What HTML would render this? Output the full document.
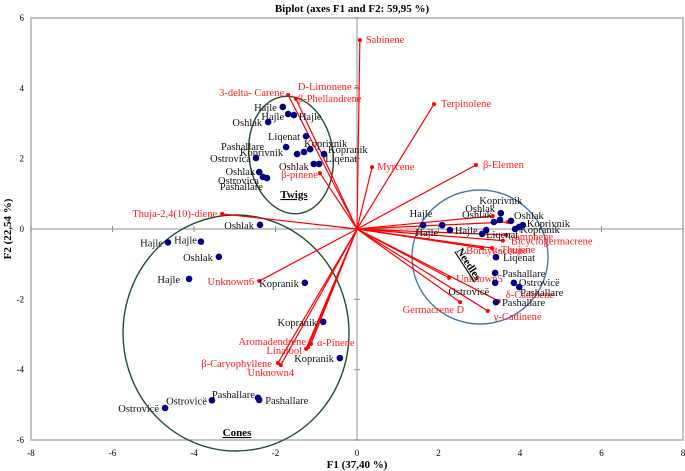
<!DOCTYPE html>
<html><head><meta charset="utf-8"><style>
html,body{margin:0;padding:0;background:#fff;}
svg{display:block;font-family:"Liberation Serif",serif;}
</style></head><body>
<svg id="chart" width="685" height="471" viewBox="0 0 685 471" xmlns="http://www.w3.org/2000/svg">
<text x="352" y="12" text-anchor="middle" font-size="11" font-weight="bold">Biplot (axes F1 and F2: 59,95 %)</text>
<text x="357" y="468" text-anchor="middle" font-size="11" font-weight="bold">F1 (37,40 %)</text>
<text transform="translate(11,229) rotate(-90)" text-anchor="middle" font-size="11" font-weight="bold">F2 (22,54 %)</text>
<g id="plot"></g>
</svg>
<script>
const xTicks=[-8,-6,-4,-2,0,2,4,6,8];
const yTicks=[-6,-4,-2,0,2,4,6];
// observations
const obsX=[-1.82,-1.69,-1.55,-2.18,-1.25,-1.74,-1.47,-1.30,-1.15,-0.81,-2.48,-1.06,-0.93,-2.40,-2.31,-2.21,
 1.62,2.09,2.28,3.07,3.17,3.36,3.51,3.53,3.78,3.88,3.98,4.07,3.41,3.39,3.39,3.85,3.98,3.41,
 -2.38,-4.64,-3.83,-3.39,-4.12,-1.28,-0.83,-0.42,-3.56,-2.40,-2.43,-4.71];
const obsY=[3.47,3.27,3.24,3.04,2.64,2.33,2.13,2.19,2.27,2.13,2.02,1.85,1.85,1.62,1.48,1.45,
 0.11,0.11,-0.03,-0.14,-0.03,0.20,0.26,0.45,0.23,0.00,0.06,0.11,-0.80,-1.25,-1.53,-1.53,-1.65,-2.08,
 0.12,-0.38,-0.36,-0.79,-1.42,-1.53,-2.64,-3.67,-4.87,-4.86,-4.80,-5.09];
const obsLabel=["Hajle","Hajle","Hajle","Oshlak","Liqenat","Pashallare","Koprivnik","","Koprivnik","Kopranik","Ostrovica","Oshlak","Liqenat","Oshlak","Ostrovica","Pashallare",
 "Hajle","Hajle","Hajle","Liqenat","","Oshlak","Oshlak","Koprivnik","Oshlak","Kopranik","","Koprivnik","Liqenat","Pashallare","Ostrovicë","Ostrovicë","Pashallare","Pashallare",
 "Oshlak","Hajle","Hajle","Oshlak","Hajle","Kopranik","Kopranik","Kopranik","Ostrovicë","Pashallare","Pashallare","Ostrovicë"];
const obsLblPos=[["end",-6,4],["end",-4,6],["start",5,5],["end",-6,4],["end",-6,4],["end",-22,3],["end",-14,2],["",0,0],["start",-6,-2],["start",4,-1],["end",-5,4],["end",-5,6],["start",6,-2],["end",-4,3],["end",-4,7],["end",-4,12],
 ["middle",-2,-8],["end",-4,11],["start",5,4],["start",4,4],["",0,0],["end",-2,-4],["end",-5,-8],["middle",0,-9],["start",3,-2],["start",5,4],["",0,0],["start",4,2],["start",7,4],["start",7,4],["end",-6,12],["start",5,3],["start",1,9],["start",6,4],
 ["end",-6,4],["end",-5,4],["end",-4,2],["end",-6,4],["end",-9,4],["end",-6,4],["end",-6,4],["end",-6,4],["end",-5,4],["start",6,4],["end",-3,0],["end",-6,4]];
// variables
const varX=[0.07,-1.50,-1.69,1.89,0.37,-0.91,2.92,-3.31,-2.40,-1.13,-1.25,-1.20,-1.94,-1.87,3.33,3.70,3.66,3.58,3.31,3.07,2.26,2.53,3.21,3.48];
const varY=[5.37,3.70,3.81,3.55,1.76,1.59,1.82,0.43,-1.48,-3.27,-3.41,-3.36,-3.81,-3.87,0.37,0.20,-0.17,-0.33,-0.54,-0.54,-1.39,-2.08,-2.33,-2.05];
const varLabel=["Sabinene","D-Limonene =|β-Phellandrene","3-delta- Carene","Terpinolene","Myrcene","β-pinene","β-Elemen","Thuja-2,4(10)-diene","Unknown6","α-Pinene","Linalool","Aromadendrene","β-Caryophyllene","Unknown4","","","Camphene","Bicyclogermacrene","α-Thujene","Bornyl acetate","Unknown5","Germacrene D","γ-Cadinene","δ-Cadinene"];
const varLblPos=[["start",6,3],["start",2,-9],["end",-4,1],["start",7,3],["start",5,3],["end",-2,5],["start",7,3],["end",-5,3],["end",-5,4],["start",6,2],["end",-4,5],["end",-2,-2],["end",-6,4],["middle",-10,11],["",0,0],["",0,0],["start",2,5],["start",8,4],["start",0,5],["start",-16,6],["start",7,4],["end",4,11],["start",6,9],["start",7,-3]];

const X0=31,X1=683,Y0=18,Y1=440;
const sx=v=>X0+(v+8)/16*(X1-X0);
const sy=v=>Y1-(v+6)/12*(Y1-Y0);
const NS="http://www.w3.org/2000/svg";
const g=document.getElementById('plot');
function mk(t,a,p){const e=document.createElementNS(NS,t);for(const k in a)e.setAttribute(k,a[k]);(p||g).appendChild(e);return e;}

let e=mk('rect',{x:X0,y:Y0,width:X1-X0,height:Y1-Y0,fill:'none',stroke:'#b0b0b0','stroke-width':1.5});


e=mk('line',{x1:X0,x2:X1,y1:sy(0),y2:sy(0),stroke:'#909090','stroke-width':1});


e=mk('line',{x1:sx(0),x2:sx(0),y1:Y0,y2:Y1,stroke:'#909090','stroke-width':1});


xTicks.forEach(t=>{
  e=mk('text',{x:sx(t),y:456,'text-anchor':'middle','font-size':9});
  e.textContent=t;
  
  
  e=mk('line',{x1:sx(t),x2:sx(t),y1:sy(0)-3,y2:sy(0)+3,stroke:'#909090'});
  
  
});
yTicks.forEach(t=>{
  e=mk('text',{x:24,y:sy(t)+3,'text-anchor':'end','font-size':9});
  e.textContent=t;
  
  
  e=mk('line',{x1:sx(0)-3,x2:sx(0)+3,y1:sy(t),y2:sy(t),stroke:'#909090'});
  
  
});
// group ellipses
e=mk('ellipse',{cx:291,cy:155,rx:42,ry:59,fill:'none',stroke:'#1e4d2b','stroke-width':1.4,transform:'rotate(-8 291 155)'});


e=mk('ellipse',{cx:236,cy:333,rx:113,ry:118,fill:'none',stroke:'#1e4d2b','stroke-width':1.4});


e=mk('ellipse',{cx:480,cy:257,rx:68,ry:67,fill:'none',stroke:'#4a78a8','stroke-width':1.4});


// variable vectors
varX.forEach((v,i)=>{
  const x=sx(v),y=sy(varY[i]);
  e=mk('line',{x1:sx(0),y1:sy(0),x2:x,y2:y,stroke:'#ff0000','stroke-width':1.2});
  
  
  e=mk('circle',{cx:x,cy:y,r:2,fill:'#ff0000'});
  
  
  const p=varLblPos[i];
  if(varLabel[i]){
    e=mk('text',{x:x+p[1],y:y+p[2],'text-anchor':p[0],'font-size':10.5,fill:'#ff1a1a'});
    const parts=varLabel[i].split('|');
    parts.forEach((s,j)=>{const ts=mk('tspan',{x:x+p[1],dy:j?12:0},e);ts.textContent=s;});
    
    
  }
});
// observations
obsX.forEach((v,i)=>{
  const x=sx(v),y=sy(obsY[i]);
  e=mk('circle',{cx:x,cy:y,r:3.3,fill:'#000080'});
  
  
  const p=obsLblPos[i];
  if(obsLabel[i]){
    e=mk('text',{x:x+p[1],y:y+p[2],'text-anchor':p[0],'font-size':10.5,fill:'#111'});
    e.textContent=obsLabel[i];
    
    
  }
});
// group titles
e=mk('text',{x:294,y:198,'text-anchor':'middle','font-size':11,'font-weight':'bold','text-decoration':'underline'});
e.textContent='Twigs';


e=mk('text',{x:237,y:436,'text-anchor':'middle','font-size':11,'font-weight':'bold','text-decoration':'underline'});
e.textContent='Cones';


e=mk('text',{x:0,y:0,'text-anchor':'middle','font-size':11,'font-weight':'bold','text-decoration':'underline',transform:'translate(466,266) rotate(57)'});
e.textContent='Needles';


</script>
</body></html>
